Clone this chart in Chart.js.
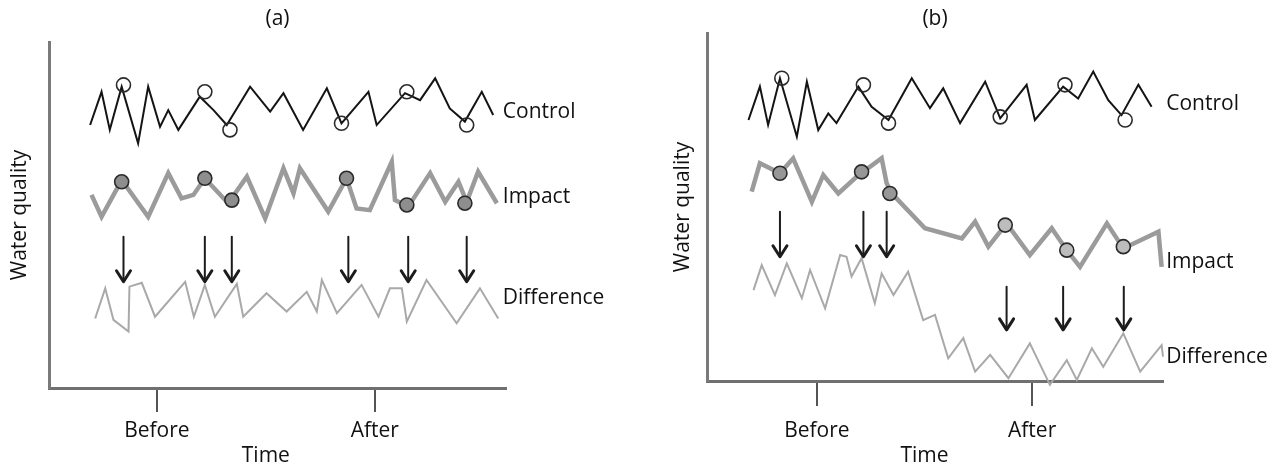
<!DOCTYPE html>
<html>
<head>
<meta charset="utf-8">
<script src="https://cdn.jsdelivr.net/npm/chart.js@4.4.1/dist/chart.umd.min.js"></script>
<style>
    body { margin: 0; background: #fff; width: 1287px; height: 469px; overflow: hidden; position: relative; }
    canvas { position: absolute; top: 0; }
    #chartA { left: 0; }
    #chartB { left: 660px; }
</style>
</head>
<body>
<canvas id="chartA" width="640" height="469"></canvas>
<canvas id="chartB" width="627" height="469"></canvas>
<script>
// ---- shared labels ----
const tickLabels = ["Before", "After"];
const seriesNames = ["Control", "Impact", "Difference"];

// ---- panel (a): no change ----
const ticksA = [23.6, 71.3];
const ctrlA_t = [9.0, 11.5, 13.3, 15.9, 19.5, 21.7, 24.3, 26.1, 28.3, 33.0, 36.0, 38.9, 44.0, 48.4, 51.3, 55.6, 60.8, 64.0, 69.9, 71.7, 77.9, 81.2, 84.5, 87.7, 91.0, 94.7, 97.2];
const ctrlA_v = [76.0, 85.6, 74.6, 87.1, 70.7, 87.1, 75.5, 80.3, 74.6, 84.2, 80.3, 76.0, 87.1, 79.9, 85.2, 74.6, 86.6, 76.5, 85.6, 76.0, 85.2, 83.2, 89.5, 80.8, 77.0, 85.6, 78.9];
const ctrlSampA_t = [16.3, 34.1, 39.6, 64.0, 78.3, 91.4];
const ctrlSampA_v = [87.6, 85.6, 74.6, 76.5, 85.6, 76.0];
const impA_t = [9.3, 11.5, 15.9, 21.7, 26.1, 29.0, 31.6, 34.1, 39.2, 43.3, 47.3, 51.3, 53.5, 54.9, 61.1, 65.1, 67.3, 70.2, 75.0, 75.7, 78.6, 83.4, 86.7, 89.6, 91.4, 93.9, 98.0];
const impA_v = [55.8, 49.5, 60.1, 49.5, 62.1, 54.8, 55.8, 60.6, 53.4, 61.1, 49.0, 63.5, 56.3, 63.5, 51.0, 60.6, 51.9, 51.4, 65.4, 54.3, 52.4, 62.1, 53.8, 59.6, 53.8, 62.5, 53.4];
const impSampA_t = [15.9, 34.1, 40.0, 65.1, 78.3, 91.0];
const impSampA_v = [59.6, 60.6, 54.3, 60.6, 52.9, 53.4];
const diffA_t = [10.1, 12.3, 14.1, 17.4, 17.6, 20.3, 23.2, 29.8, 31.7, 34.1, 36.3, 41.1, 42.5, 47.6, 52.0, 56.4, 58.6, 59.7, 63.0, 68.4, 72.1, 74.6, 77.2, 78.3, 82.6, 89.2, 94.3, 98.3];
const diffA_v = [20.1, 28.8, 19.7, 16.3, 29.3, 30.4, 20.6, 30.7, 20.6, 29.8, 20.6, 30.1, 20.6, 27.4, 22.1, 27.8, 22.1, 31.2, 21.6, 29.8, 20.6, 28.8, 28.8, 19.2, 31.2, 18.7, 28.8, 20.1];
const arrowA_t = [16.3, 34.1, 40.0, 65.5, 78.6, 91.4];
const arrowA_from = [43.7, 43.7, 43.7, 43.7, 43.7, 43.7];
const arrowA_to = [30.7, 30.7, 30.7, 30.7, 30.7, 30.7];
const labelA_t = 99.3;
const labelA_v = [79.9, 55.3, 26.0];

// ---- panel (b): impact after the event ----
const ticksB = [24.1, 71.3];
const ctrlB_t = [9.1, 11.6, 13.4, 16.0, 19.7, 21.9, 24.4, 26.6, 28.4, 33.2, 36.1, 39.8, 44.9, 48.9, 51.8, 55.5, 61.0, 64.3, 70.1, 71.9, 78.1, 81.4, 84.7, 88.0, 90.9, 94.6, 97.5];
const ctrlB_v = [75.0, 84.6, 73.6, 87.0, 70.2, 86.0, 72.1, 76.9, 74.1, 84.6, 78.8, 75.0, 87.0, 78.4, 84.1, 74.1, 86.0, 75.5, 85.1, 75.0, 84.6, 81.2, 88.9, 80.7, 76.4, 85.1, 78.8];
const ctrlSampB_t = [16.4, 34.3, 39.8, 64.3, 78.5, 91.7];
const ctrlSampB_v = [87.0, 85.1, 74.1, 75.9, 85.1, 75.0];
const impB_t = [9.8, 11.6, 16.0, 18.9, 23.0, 25.5, 28.8, 32.8, 38.3, 39.4, 40.5, 47.8, 55.9, 58.8, 61.7, 65.7, 70.8, 75.6, 78.9, 81.8, 87.7, 91.3, 99.0, 99.7];
const impB_v = [54.4, 62.6, 59.7, 64.0, 51.5, 59.2, 53.9, 58.7, 64.0, 56.8, 53.9, 43.9, 41.0, 45.8, 38.6, 45.3, 36.2, 43.9, 37.6, 32.8, 45.3, 38.1, 42.9, 32.8];
const impSampB_t = [16.0, 33.9, 40.1, 65.4, 78.9, 91.3];
const impSampB_v = [59.7, 60.1, 53.9, 44.8, 37.6, 38.6];
const diffB_t = [10.2, 12.0, 14.9, 17.5, 20.8, 22.6, 25.9, 29.2, 30.6, 31.7, 33.9, 36.8, 38.3, 40.9, 44.1, 47.4, 50.0, 52.9, 56.2, 58.8, 62.1, 66.1, 70.8, 75.2, 78.9, 81.1, 84.4, 86.9, 91.3, 95.0, 99.7, 100.0];
const diffB_v = [26.1, 33.3, 24.7, 33.8, 23.8, 31.9, 20.9, 36.2, 35.7, 30.0, 35.3, 22.3, 30.9, 24.7, 31.4, 17.5, 19.0, 6.5, 12.3, 2.7, 7.5, 0.8, 10.8, -1.1, 6.0, 0.3, 9.4, 4.1, 13.7, 2.7, 10.3, 7.0];
const arrowB_t = [16.0, 34.3, 39.4, 65.7, 78.1, 91.4];
const arrowB_from = [48.6, 48.6, 48.6, 27.1, 27.1, 27.1];
const arrowB_to = [35.7, 35.7, 35.7, 14.7, 14.7, 14.7];
const labelB_t = 100.7;
const labelB_v = [79.6, 34.2, 6.9];

Chart.defaults.font.family = "'Open Sans', sans-serif";
Chart.defaults.color = "#111";

const FONT = { size: 21, weight: "normal" };

const pts = (t, v) => t.map((x, i) => ({ x, y: v[i] }));

// arrows, series names and the "Time" caption, all placed through the scales
const makeOverlay = (p) => ({
    id: "overlay",
    afterDatasetsDraw(chart) {
        const { ctx, scales: { x, y } } = chart;
        ctx.save();
        ctx.strokeStyle = "#1c1c1c";
        ctx.fillStyle = "#1c1c1c";
        ctx.lineCap = "round";
        ctx.lineJoin = "round";
        p.arrowT.forEach((t, i) => {
            const px = x.getPixelForValue(t);
            const y0 = y.getPixelForValue(p.arrowFrom[i]);
            const y1 = y.getPixelForValue(p.arrowTo[i]);
            ctx.lineWidth = 2;
            ctx.beginPath();
            ctx.moveTo(px, y0);
            ctx.lineTo(px, y1 - 3);
            ctx.stroke();
            ctx.lineWidth = 3;
            ctx.beginPath();
            ctx.moveTo(px - 7, y1 - 11);
            ctx.lineTo(px, y1);
            ctx.lineTo(px + 7, y1 - 11);
            ctx.stroke();
        });

        ctx.font = "21px 'Open Sans', sans-serif";
        ctx.fillStyle = "#111";
        ctx.textAlign = "left";
        ctx.textBaseline = "middle";
        seriesNames.forEach((name, i) => {
            ctx.fillText(name, x.getPixelForValue(p.labelT), y.getPixelForValue(p.labelV[i]));
        });

        ctx.textAlign = "center";
        const mid = (x.getPixelForValue(p.ticks[0]) + x.getPixelForValue(p.ticks[1])) / 2;
        ctx.fillText("Time", mid, x.bottom - 13);
        ctx.restore();
    }
});

const buildChart = (id, p) => {
    const ctx = document.getElementById(id).getContext("2d");
    return new Chart(ctx, {
        type: "scatter",
        data: {
            datasets: [
                {
                    data: pts(p.ctrlSampT, p.ctrlSampV),
                    pointRadius: 7,
                    pointBackgroundColor: "rgba(255,255,255,0)",
                    pointBorderColor: "#2a2a2a",
                    pointBorderWidth: 1.6,
                    clip: false
                },
                {
                    data: pts(p.impSampT, p.impSampV),
                    pointRadius: 7,
                    pointBackgroundColor: p.impFill,
                    pointBorderColor: "#2a2a2a",
                    pointBorderWidth: 1.6,
                    clip: false
                },
                {
                    data: pts(p.ctrlT, p.ctrlV),
                    showLine: true,
                    borderColor: "#141414",
                    borderWidth: 2,
                    pointRadius: 0,
                    clip: false
                },
                {
                    data: pts(p.impT, p.impV),
                    showLine: true,
                    borderColor: "#9b9b9b",
                    borderWidth: 4.5,
                    pointRadius: 0,
                    clip: false
                },
                {
                    data: pts(p.diffT, p.diffV),
                    showLine: true,
                    borderColor: "#a9a9a9",
                    borderWidth: 2,
                    pointRadius: 0,
                    clip: false
                }
            ]
        },
        options: {
            responsive: false,
            animation: false,
            events: [],
            layout: { padding: { left: 0, right: p.padRight, top: 0, bottom: 0 } },
            plugins: {
                legend: { display: false },
                tooltip: { enabled: false },
                title: {
                    display: true,
                    text: p.title,
                    fullSize: false,
                    font: FONT,
                    color: "#111",
                    padding: { top: 6.4, bottom: p.titleBottom }
                }
            },
            scales: {
                x: {
                    type: "linear",
                    min: 0,
                    max: 100,
                    afterBuildTicks: (scale) => { scale.ticks = p.ticks.map(v => ({ value: v })); },
                    afterFit: (scale) => { scale.height = p.xAxisHeight; },
                    border: { display: true, color: "#707070", width: 3 },
                    grid: { display: true, drawOnChartArea: false, drawTicks: true, tickLength: p.tickLength, color: "#555", lineWidth: 2 },
                    ticks: {
                        font: FONT,
                        color: "#111",
                        padding: p.tickPadding,
                        maxRotation: 0,
                        autoSkip: false,
                        callback: (value, index) => tickLabels[index]
                    }
                },
                y: {
                    type: "linear",
                    min: 0,
                    max: 100,
                    afterFit: (scale) => { scale.width = p.yAxisWidth; },
                    border: { display: true, color: "#7a7a7a", width: 3 },
                    grid: { display: false },
                    ticks: { display: false },
                    title: {
                        display: true,
                        text: "Water quality",
                        font: FONT,
                        color: "#111",
                        padding: { top: p.yTitlePad, bottom: 0 }
                    }
                }
            }
        },
        plugins: [makeOverlay(p)]
    });
};

buildChart("chartA", {
    title: "(a)", titleBottom: 10.4, padRight: 134, xAxisHeight: 81, yAxisWidth: 49,
    tickLength: 24, tickPadding: 6.4, yTitlePad: 7.4,
    ticks: ticksA,
    ctrlT: ctrlA_t, ctrlV: ctrlA_v, ctrlSampT: ctrlSampA_t, ctrlSampV: ctrlSampA_v,
    impT: impA_t, impV: impA_v, impSampT: impSampA_t, impSampV: impSampA_v,
    impFill: "#8e8e8e",
    diffT: diffA_t, diffV: diffA_v,
    arrowT: arrowA_t, arrowFrom: arrowA_from, arrowTo: arrowA_to,
    labelT: labelA_t, labelV: labelA_v
});

buildChart("chartB", {
    title: "(b)", titleBottom: 1.4, padRight: 124, xAxisHeight: 88, yAxisWidth: 47,
    tickLength: 25, tickPadding: 12.4, yTitlePad: 10.4,
    ticks: ticksB,
    ctrlT: ctrlB_t, ctrlV: ctrlB_v, ctrlSampT: ctrlSampB_t, ctrlSampV: ctrlSampB_v,
    impT: impB_t, impV: impB_v, impSampT: impSampB_t, impSampV: impSampB_v,
    impFill: ["#979797", "#979797", "#979797", "#bdbdbd", "#bdbdbd", "#bdbdbd"],
    diffT: diffB_t, diffV: diffB_v,
    arrowT: arrowB_t, arrowFrom: arrowB_from, arrowTo: arrowB_to,
    labelT: labelB_t, labelV: labelB_v
});
</script>
</body>
</html>
